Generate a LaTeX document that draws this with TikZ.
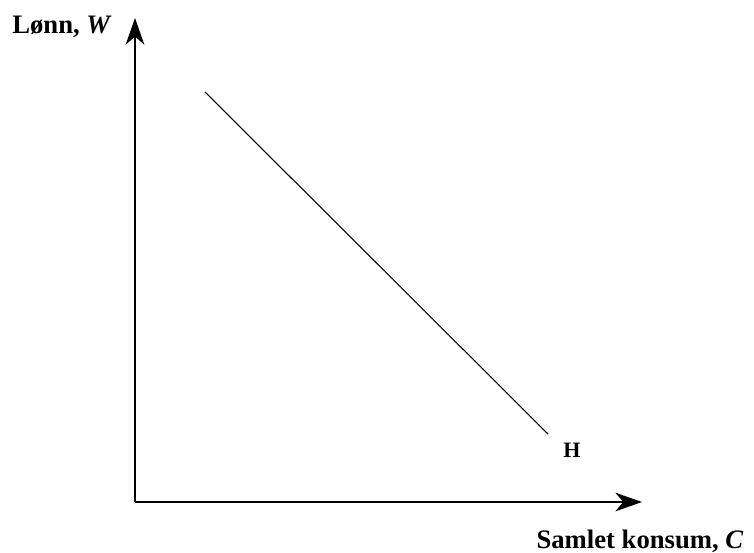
\documentclass[tikz,border=0pt]{standalone}
\usepackage{fontspec}
\setmainfont{Liberation Serif}
\usetikzlibrary{arrows.meta}

\begin{document}
\begin{tikzpicture}[
    x=0.75pt, y=-0.75pt,
    axis/.style={-{Stealth[length=20pt, width=14pt, inset=6pt]}, line width=1pt},
    curve/.style={line width=0.8pt},
    axislabel/.style={font=\fontsize{20}{24}\selectfont\bfseries, anchor=base},
    pointlabel/.style={font=\fontsize{16.5}{20}\selectfont\bfseries, anchor=base}
]
    \useasboundingbox (0,0) rectangle (754,553);

    % Nodes
    \coordinate (origin) at (135,502);
    \coordinate (yend) at (135,18);
    \coordinate (xend) at (642,502);
    \coordinate (hstart) at (205,92);
    \coordinate (hend) at (548,434);
    \node[axislabel] (wage) at (62,33) {Lønn, \textit{W}};
    \node[axislabel] (cons) at (640,548) {Samlet konsum, \textit{C}};
    \node[pointlabel] (hlab) at (572,457) {H};

    % Arrows
    \draw[axis] (origin) -- (yend);
    \draw[axis] (origin) -- (xend);
    \draw[curve] (hstart) -- (hend);

\end{tikzpicture}
\end{document}
